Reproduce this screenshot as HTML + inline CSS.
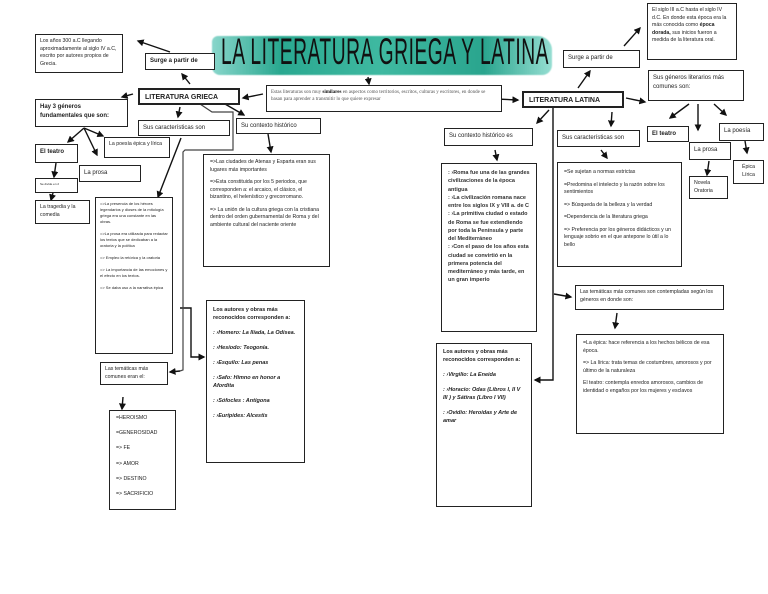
<!DOCTYPE html>
<html><head><meta charset="utf-8"><style>
*{margin:0;padding:0;box-sizing:border-box}
body{width:768px;height:594px;background:#fff;position:relative;overflow:hidden;font-family:"Liberation Sans",sans-serif;color:#222}
.b{position:absolute;border:1.3px solid #222;background:#fff;font-size:5px;line-height:1.45;padding:3px 4px}
.h{font-weight:bold;font-size:6px}
.t{font-size:5.2px}
.t p{margin-bottom:5px}
.bi p{margin-bottom:7px;font-weight:bold;font-style:italic;font-size:5.5px}
</style></head><body>
<div style="position:absolute;left:212px;top:36px;width:340px;height:39px;background:linear-gradient(90deg,rgba(40,180,160,.55),#2aa890 20%,#3fb9a1 50%,#2aa58e 80%,rgba(80,200,180,.6));border-radius:6px 14px 10px 8px;filter:blur(.6px)"></div>
<div style="position:absolute;left:221px;top:31px;font-size:37px;letter-spacing:1px;transform:scaleX(.52);transform-origin:left;white-space:nowrap;color:#111">LA LITERATURA GRIEGA Y LATINA</div>
<svg width="768" height="594" style="position:absolute;left:0;top:0">
<defs><marker id="a" markerWidth="5" markerHeight="5" refX="4" refY="2.5" orient="auto"><path d="M0,0L5,2.5L0,5z" fill="#111"/></marker></defs>
<g stroke="#111" stroke-width="1.4" fill="none" marker-end="url(#a)">
<line x1="170" y1="52" x2="138" y2="41"/>
<line x1="190" y1="84" x2="182" y2="74"/>
<line x1="133" y1="94" x2="122" y2="97"/>
<line x1="263" y1="94" x2="243" y2="98"/>
<line x1="368" y1="77" x2="369" y2="84"/>
<line x1="180" y1="107" x2="178" y2="117"/>
<line x1="225" y1="104" x2="244" y2="115"/>
<line x1="84" y1="128" x2="68" y2="142"/>
<line x1="84" y1="128" x2="97" y2="155"/>
<line x1="84" y1="128" x2="103" y2="136"/>
<line x1="56" y1="163" x2="54" y2="177"/>
<line x1="53" y1="193" x2="51" y2="200"/>
<line x1="181" y1="138" x2="158" y2="197"/>
<line x1="268" y1="134" x2="271" y2="152"/>
<line x1="123" y1="397" x2="122" y2="409"/>
<line x1="180" y1="371" x2="170" y2="372"/>
<polyline points="180,308 191,308 191,357 204,357"/>
<line x1="496" y1="99" x2="518" y2="100"/>
<line x1="578" y1="88" x2="590" y2="71"/>
<line x1="624" y1="46" x2="640" y2="28"/>
<line x1="626" y1="98" x2="645" y2="102"/>
<line x1="549" y1="110" x2="537" y2="123"/>
<line x1="612" y1="112" x2="611" y2="126"/>
<line x1="495" y1="150" x2="497" y2="160"/>
<line x1="601" y1="150" x2="607" y2="158"/>
<line x1="689" y1="104" x2="670" y2="118"/>
<line x1="698" y1="104" x2="698" y2="130"/>
<line x1="714" y1="104" x2="726" y2="115"/>
<line x1="709" y1="161" x2="707" y2="175"/>
<line x1="745" y1="141" x2="747" y2="153"/>
<line x1="554" y1="294" x2="571" y2="297"/>
<line x1="617" y1="313" x2="615" y2="328"/>
<polyline points="553,108 553,380 535,380"/>
</g>
<g stroke="#444" stroke-width="1.2" fill="none">
<polyline points="200,104 212,112 233,112 233,150 185,150 183,152 183,370 180,371"/>
</g>
</svg>
<div class="b t" style="left:35px;top:34px;width:88px;height:39px">Los años 300 a.C llegando aproximadamente al siglo IV a.C, escrito por autores propios de Grecia.</div>
<div class="b h" style="left:145px;top:53px;width:70px;height:17px">Surge a partir de</div>
<div class="b h" style="left:138px;top:88px;width:102px;height:17px;border-width:2px;font-size:7px;padding:3px 5px">LITERATURA GRIECA</div>
<div class="b" style="left:266px;top:85px;width:236px;height:27px;font-family:'Liberation Serif',serif;font-size:5px;color:#555">Estas literaturas son muy <b style="color:#111">similares</b> en aspectos como territorios, escritos, culturas y escritores, en donde se basan para aprender a transmitir lo que quiere expresar</div>
<div class="b h" style="left:35px;top:99px;width:93px;height:28px">Hay 3 géneros fundamentales que son:</div>
<div class="b h" style="left:138px;top:120px;width:92px;height:16px;font-weight:normal">Sus características son</div>
<div class="b h" style="left:236px;top:118px;width:85px;height:16px;font-weight:normal">Su contexto histórico</div>
<div class="b t" style="left:104px;top:137px;width:66px;height:21px">La poesía épica y lírica</div>
<div class="b h" style="left:35px;top:144px;width:43px;height:19px">El teatro</div>
<div class="b h" style="left:79px;top:165px;width:62px;height:17px;font-weight:normal">La prosa</div>
<div class="b" style="left:35px;top:178px;width:43px;height:15px;font-size:3px">Se divide en 2</div>
<div class="b t" style="left:35px;top:200px;width:55px;height:24px">La tragedia y la comedia</div>
<div class="b" style="left:95px;top:197px;width:78px;height:157px;font-size:4px;line-height:1.5"><p style="margin-bottom:6px">=&gt;La presencia de los héroes legendarios y dioses de la mitología griega era una constante en las obras.</p><p style="margin-bottom:6px">=&gt;La prosa era utilizada para redactar los textos que se dedicaban a la oratoria y la política</p><p style="margin-bottom:6px">=&gt; Empleo la retórica y la oratoria</p><p style="margin-bottom:6px">=&gt; La importancia de las emociones y el efecto en los textos.</p><p>=&gt; Se daba uso a la narrativa épica</p></div>
<div class="b t" style="left:203px;top:154px;width:127px;height:113px;padding:4px 6px"><p>=&gt;Las ciudades de Atenas y Esparta eran sus lugares más importantes</p><p>=&gt;Esta constituida por los 5 periodos, que corresponden a: el arcaico, el clásico, el bizantino, el helenístico y grecorromano.</p><p>=&gt; La unión de la cultura griega con la cristiana dentro del orden gubernamental de Roma y del ambiente cultural del naciente oriente</p></div>
<div class="b bi" style="left:206px;top:300px;width:99px;height:163px;padding:6px 6px"><p style="font-style:normal">Los autores y obras más reconocidos corresponden a:</p><p>: ›Homero: La Ilíada, La Odisea.</p><p>: ›Hesíodo: Teogonía.</p><p>: ›Esquilo: Las penas</p><p>: ›Safo: Himno en honor a Afordita</p><p>: ›Sófocles : Antígona</p><p>: ›Eurípides: Alcestis</p></div>
<div class="b t" style="left:100px;top:362px;width:68px;height:23px">Las temáticas más comunes eran el:</div>
<div class="b t" style="left:109px;top:410px;width:67px;height:100px;padding:5px 6px;line-height:1"><p style="margin-bottom:10px">=HEROISMO</p><p style="margin-bottom:10px">=GENEROSIDAD</p><p style="margin-bottom:10px">=&gt; FE</p><p style="margin-bottom:10px">=&gt; AMOR</p><p style="margin-bottom:10px">=&gt; DESTINO</p><p>=&gt; SACRIFICIO</p></div>

<div class="b t" style="left:647px;top:3px;width:90px;height:57px">El siglo III a.C hasta el siglo IV d.C. En donde esta época era la más conocida como <b>época dorada,</b> sus inicios fueron a medida de la literatura oral.</div>
<div class="b h" style="left:563px;top:50px;width:77px;height:18px;font-weight:normal">Surge a partir de</div>
<div class="b h" style="left:522px;top:91px;width:102px;height:17px;border-width:2px;font-size:7px;padding:3px 5px">LITERATURA LATINA</div>
<div class="b h" style="left:648px;top:70px;width:96px;height:31px;font-weight:normal">Sus géneros literarios más comunes son:</div>
<div class="b h" style="left:444px;top:128px;width:89px;height:18px;font-weight:normal">Su contexto histórico es</div>
<div class="b h" style="left:557px;top:130px;width:83px;height:17px;font-weight:normal">Sus características son</div>
<div class="b h" style="left:647px;top:126px;width:42px;height:16px">El teatro</div>
<div class="b h" style="left:689px;top:142px;width:42px;height:18px;font-weight:normal">La prosa</div>
<div class="b h" style="left:719px;top:123px;width:45px;height:18px;font-weight:normal">La poesía</div>
<div class="b t" style="left:733px;top:160px;width:31px;height:24px;text-align:center">Épica Lírica</div>
<div class="b t" style="left:689px;top:176px;width:39px;height:23px">Novela Oratoria</div>
<div class="b" style="left:441px;top:163px;width:96px;height:169px;font-size:5.5px;font-weight:bold;line-height:1.5;padding:5px 6px;color:#333">: ›Roma fue una de las grandes civilizaciones de la época antigua<br>: ›La civilización romana nace entre los siglos IX y VIII a. de C<br>: ›La primitiva ciudad o estado de Roma se fue extendiendo por toda la Península y parte del Mediterráneo<br>: ›Con el paso de los años esta ciudad se convirtió en la primera potencia del mediterráneo y más tarde, en un gran imperio</div>
<div class="b t" style="left:557px;top:162px;width:125px;height:105px;padding:6px 6px"><p>=Se sujetan a normas estrictas</p><p>=Predomina el intelecto y la razón sobre los sentimientos</p><p>=&gt; Búsqueda de la belleza y la verdad</p><p>=Dependencia de la literatura griega</p><p>=&gt; Preferencia por los géneros didácticos y un lenguaje sobrio en el que antepone lo útil a lo bello</p></div>
<div class="b t" style="left:575px;top:285px;width:149px;height:25px">Las temáticas más comunes son contempladas según los géneros en donde son:</div>
<div class="b t" style="left:576px;top:334px;width:148px;height:100px;padding:5px 6px"><p>=La épica: hace referencia a los hechos bélicos de esa época.</p><p>=&gt; La lírica: trata temas de costumbres, amorosos y por último de la naturaleza</p><p>El teatro: contempla enredos amorosos, cambios de identidad o engaños por los mujeres y esclavos</p></div>
<div class="b bi" style="left:436px;top:343px;width:96px;height:164px;padding:5px 6px"><p style="font-style:normal">Los autores y obras más reconocidos corresponden a:</p><p>: ›Virgilio: La Eneida</p><p>: ›Horacio: Odas (Libros I, II V III ) y Sátiras (Libro I VII)</p><p>: ›Ovidio: Heroidas y Arte de amar</p></div>
</body></html>
